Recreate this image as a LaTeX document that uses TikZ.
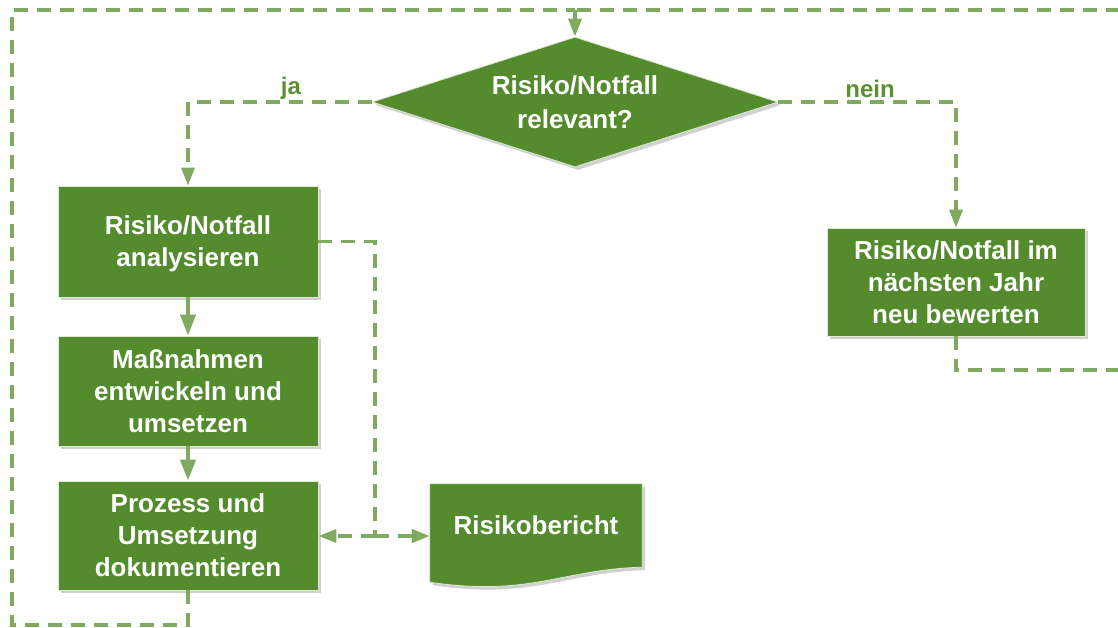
\documentclass[tikz,border=0pt]{standalone}
\usepackage{fontspec}
\setmainfont{Liberation Sans}
\usetikzlibrary{shapes.geometric,shadows,arrows.meta,calc,backgrounds}
\definecolor{boxgreen}{RGB}{84,139,45}
\definecolor{linegreen}{RGB}{128,170,96}
\definecolor{labelgreen}{RGB}{90,145,50}
\tikzset{
  x=1pt,y=-1pt,
  shad/.style={drop shadow={shadow xshift=3pt,shadow yshift=-3pt,opacity=0.3,fill=black!60}},
  procbox/.style={rectangle,fill=boxgreen,draw=white!80!boxgreen,line width=0.8pt,text=white,
    font=\fontsize{26}{32}\selectfont\bfseries,align=center,inner sep=0pt,shad},
  decbox/.style={diamond,fill=boxgreen,draw=white!80!boxgreen,line width=0.8pt,text=white,
    font=\fontsize{26}{34}\selectfont\bfseries,align=center,inner sep=0pt,aspect=3.12,
    minimum width=406pt,minimum height=130pt,shad},
  dashline/.style={draw=linegreen,line width=3.5pt,dash pattern=on 14pt off 9pt},
  solidarrow/.style={draw=linegreen,line width=4pt,-{Triangle[width=15pt,length=21pt]}},
  tip/.style={-{Triangle[width=13pt,length=18pt]}},
  lbl/.style={text=labelgreen,font=\fontsize{24}{28}\selectfont\bfseries,inner sep=0pt},
}
\begin{document}
\begin{tikzpicture}
\clip (0,0) rectangle (1118,628);

\node[decbox,text depth=-2pt] (d) at (575,102) {Risiko/Notfall\\relevant?};
\node[procbox,text depth=-2pt,minimum width=260pt,minimum height=111pt] (b1) at (188,241.5) {Risiko/Notfall\\analysieren};
\node[procbox,minimum width=260pt,minimum height=110pt] (b2) at (188,391) {Maßnahmen\\entwickeln und\\umsetzen};
\node[procbox,minimum width=260pt,minimum height=109pt] (b3) at (188,535.5) {Prozess und\\Umsetzung\\dokumentieren};
\node[procbox,minimum width=258pt,minimum height=108pt] (r) at (956,282) {Risiko/Notfall im\\nächsten Jahr\\neu bewerten};
\node[text=white,font=\fontsize{26}{32}\selectfont\bfseries,inner sep=0pt,minimum width=212pt,minimum height=83pt] (rb) at (536,525.5) {Risikobericht};
\begin{scope}[on background layer]
  \fill[white] (0,0) rectangle (1118,628);
  \fill[boxgreen,shad] (rb.north west) -- (rb.north east) -- (rb.south east)
    .. controls ($(rb.south east)+(-80,2)$) and ($(rb.south west)+(100,30)$) .. ($(rb.south west)+(0,15)$) -- cycle;
  \draw[white!80!boxgreen,line width=0.8pt] (rb.north west) -- (rb.north east) -- (rb.south east)
    .. controls ($(rb.south east)+(-80,2)$) and ($(rb.south west)+(100,30)$) .. ($(rb.south west)+(0,15)$) -- cycle;
\end{scope}

\node[lbl] (ja) at (291,88) {ja};
\node[lbl] (nein) at (870,89) {nein};

\coordinate (top) at (575,10);
\coordinate (bl) at (12,625);
\coordinate (brc) at (1140,370);
\coordinate (jn) at (375,536);

% loops back to decision
\draw[dashline] (b3.south) |- (bl) |- (top);
\draw[dashline] (r.south) |- (brc) |- (top);
\draw[dashline,tip] (top) -- (d.north);

% yes / no branches
\draw[dashline,tip] (d.west) -| (b1.north);
\draw[dashline,tip] (d.east) -| (r.north);

% process chain
\draw[solidarrow] (b1.south) -- (b2.north);
\draw[solidarrow] (b2.south) -- (b3.north);

% report connections
\draw[dashline] (b1.east) -| (jn);
\draw[dashline,tip] (jn) -- (b3.east |- jn);
\draw[dashline,tip] (jn) -- (rb.west |- jn);
\end{tikzpicture}
\end{document}
